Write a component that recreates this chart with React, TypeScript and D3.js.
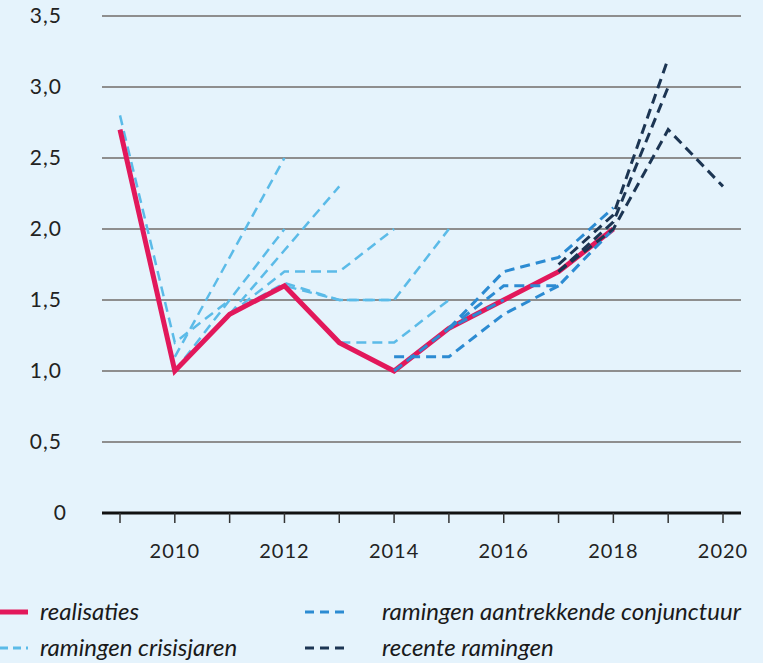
import React from 'react';
import * as d3 from 'd3';

// realisaties
const realYears = [2009, 2010, 2011, 2012, 2013, 2014, 2015, 2016, 2017, 2018];
const realValues = [2.7, 1.0, 1.4, 1.6, 1.2, 1.0, 1.3, 1.5, 1.7, 2.0];

// ramingen crisisjaren (start year + values per year)
const crisisStart = [2009, 2009, 2010, 2010, 2011, 2011, 2011, 2011, 2012];
const crisisValues = [
  [2.8, 1.2, 1.5],
  [2.7, 1.0, 1.4],
  [1.1, 1.8, 2.5],
  [1.0, 1.5, 2.0],
  [1.4, 1.85, 2.3],
  [1.4, 1.7, 1.7, 2.0],
  [1.4, 1.62, 1.5, 1.5, 2.0],
  [1.4, 1.6, 1.5, 1.5],
  [1.6, 1.2, 1.2, 1.5],
];

// ramingen aantrekkende conjunctuur
const upStart = [2014, 2014, 2015, 2015];
const upValues = [
  [1.0, 1.3, 1.5],
  [1.1, 1.1, 1.4, 1.6],
  [1.3, 1.7, 1.8, 2.15],
  [1.3, 1.6, 1.6, 2.0],
];

// recente ramingen
const recentStart = [2017, 2017, 2017];
const recentValues = [
  [1.75, 2.1, 3.2],
  [1.7, 2.05, 3.0],
  [1.7, 2.0, 2.7, 2.3],
];

const yTicks = [0, 0.5, 1.0, 1.5, 2.0, 2.5, 3.0, 3.5];
const xTicks = [2009, 2010, 2011, 2012, 2013, 2014, 2015, 2016, 2017, 2018, 2019, 2020];
const xLabels = [2010, 2012, 2014, 2016, 2018, 2020];

const W = 763, H = 663;
const x = d3.scaleLinear().domain([2009, 2020]).range([120, 723]);
const y = d3.scaleLinear().domain([0, 3.5]).range([513, 16]);
const line = d3.line<[number, number]>().x(d => x(d[0])).y(d => y(d[1]));

const toPts = (start: number, vals: number[]) => vals.map((v, i) => [start + i, v] as [number, number]);

const fmt = (v: number) => (v === 0 ? '0' : v.toFixed(1).replace('.', ','));

const C_RED = '#e2185b', C_LIGHT = '#5bbbe8', C_MID = '#2c8bd2', C_DARK = '#1c3553';

export default function App() {
  const font = 'Lato, "Open Sans", sans-serif';
  return (
    <svg width={W} height={H} style={{ position: 'absolute', left: 0, top: 0 }} fontFamily={font}>
      <rect width={W} height={H} fill="#e5f3fc" />
      {yTicks.filter(t => t > 0).map(t => (
        <line key={t} x1={102} x2={741} y1={y(t)} y2={y(t)} stroke="#8e8e8e" strokeWidth={2} />
      ))}
      {yTicks.map(t => (
        <text key={t} x={t === 0 ? 67 : 62} y={y(t) + 7} textAnchor="end" fontSize={21} letterSpacing={1} fill="#222">{fmt(t)}</text>
      ))}
      <line x1={102} x2={741} y1={y(0)} y2={y(0)} stroke="#111" strokeWidth={3} />
      {xTicks.map(t => (
        <line key={t} x1={x(t)} x2={x(t)} y1={y(0)} y2={y(0) + 10} stroke="#333" strokeWidth={1.5} />
      ))}
      {xLabels.map(t => (
        <text key={t} x={x(t)} y={558} textAnchor="middle" fontSize={20} letterSpacing={1} fill="#222">{t}</text>
      ))}

      {crisisValues.map((vals, i) => (
        <path key={'c' + i} d={line(toPts(crisisStart[i], vals)) || ''} fill="none" stroke={C_LIGHT} strokeWidth={2.5} strokeDasharray="10,6" />
      ))}
      <path d={line(realValues.map((v, i) => [realYears[i], v] as [number, number])) || ''} fill="none" stroke={C_RED} strokeWidth={5} strokeLinejoin="miter" />
      {upValues.map((vals, i) => (
        <path key={'u' + i} d={line(toPts(upStart[i], vals)) || ''} fill="none" stroke={C_MID} strokeWidth={3} strokeDasharray="10,6" />
      ))}
      {recentValues.map((vals, i) => (
        <path key={'r' + i} d={line(toPts(recentStart[i], vals)) || ''} fill="none" stroke={C_DARK} strokeWidth={3} strokeDasharray="10,6" />
      ))}

      {/* legend */}
      <g fontSize={24} fontStyle="italic" fill="#1a1a1a">
        <line x1={0} x2={28} y1={612} y2={612} stroke={C_RED} strokeWidth={5} />
        <text x={40} y={620}>realisaties</text>
        <line x1={0} x2={28} y1={648} y2={648} stroke={C_LIGHT} strokeWidth={3} strokeDasharray="8,5" />
        <text x={40} y={656}>ramingen crisisjaren</text>
        <line x1={305} x2={346} y1={612} y2={612} stroke={C_MID} strokeWidth={3} strokeDasharray="9,6" />
        <text x={382} y={620}>ramingen aantrekkende conjunctuur</text>
        <line x1={305} x2={346} y1={648} y2={648} stroke={C_DARK} strokeWidth={3} strokeDasharray="9,6" />
        <text x={382} y={656}>recente ramingen</text>
      </g>
    </svg>
  );
}
